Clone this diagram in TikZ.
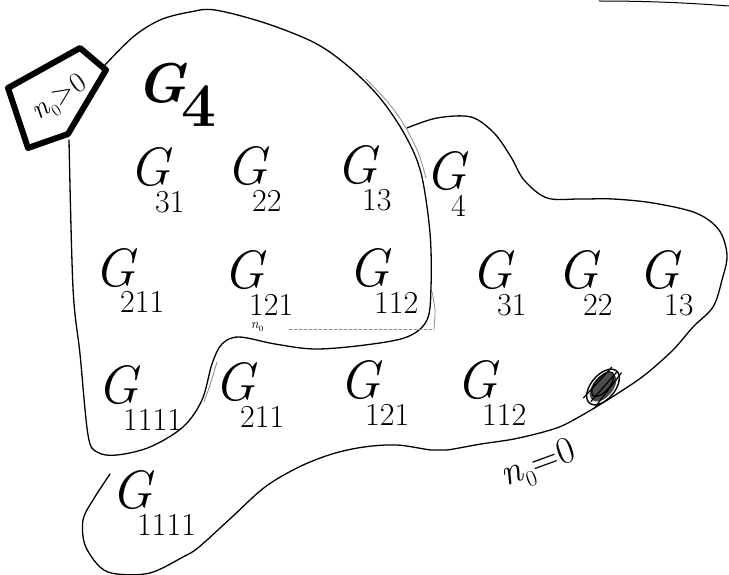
\documentclass[tikz,border=0pt]{standalone}
\usepackage{fontspec}
\begin{document}
\newcommand\Gsub[1]{\textit{G}\kern-17pt\raisebox{-27pt}{\fontsize{32}{32}\selectfont\upshape #1}}
\newcommand\nsub{\textit{n}\raisebox{-0.25em}{\fontsize{0.6em}{0.6em}\selectfont 0}}
\begin{tikzpicture}[x=1pt,y=-1pt,
  glabel/.style={anchor=base west, inner sep=0pt, font=\fontsize{54}{54}\selectfont},
  outline/.style={line width=1.3pt, line join=round, line cap=round},
  faint/.style={line width=0.8pt, black!45, line cap=round},
  tag/.style={line width=6pt, line join=round}]
\useasboundingbox[fill=white] (0,0) rectangle (729,575);

% stray stroke at top right
\draw[outline, line width=1pt] (599,1) .. controls (650,1) and (690,3) .. (729,6);

% region n0>0
\draw[outline] plot[smooth, tension=0.55] coordinates {
 (104,66) (133,37) (160,20) (190,12) (215,10) (265,23) (315,43) (349,67)
 (380,98) (405,135) (421,173) (430,233) (431,287) (427,320) (407,337)
 (365,345) (315,349) (275,344) (239,337) (222,344) (212,364) (202,400)
 (183,427) (150,447) (117,455) (97,452) (88,435) (80,354) (73,288) (69,140)};

% region n0=0
\draw[outline] plot[smooth, tension=0.55] coordinates {
 (407,128) (437,118) (471,117) (494,133) (511,157) (524,180) (547,198)
 (580,199) (613,199) (653,203) (696,213) (719,230) (727,255) (722,280)
 (713,307) (693,327) (673,350) (646,374) (623,390) (596,407) (566,424)
 (547,431) (514,439) (481,444) (447,450) (431,450) (397,445) (364,447)
 (332,454) (299,467) (265,487) (232,517) (199,547) (183,557) (150,573)
 (117,574) (100,567) (85,545) (83,520) (93,500) (110,474)};

% faint double strokes
\draw[faint] plot[smooth] coordinates {(366,79) (386,100) (403,123) (418,152) (426,178)};
\draw[faint] plot[smooth] coordinates {(432,292) (435,310) (434,329)};
\draw[faint, dash pattern=on 3pt off 2pt] (289,329) -- (434,329);
\draw[faint] plot[smooth] coordinates {(217,362) (210,385) (204,402)};

% scribbled blot
\begin{scope}[rotate around={50:(603,387)}]
  \fill[black!70] (603,387) ellipse (17 and 10);
  \draw[line width=1.4pt] (603,387) ellipse (21 and 12);
  \draw[line width=1.2pt] (605,385) ellipse (15 and 7);
  \draw[line width=1.2pt] (582,379) -- (624,381) (580,394) -- (626,392) (584,387) -- (623,388);
\end{scope}

% tag n0>0
\draw[tag] (8,88) -- (80,48) -- (106,70) -- (68,134) -- (28,148) -- cycle;
\node[rotate=34, inner sep=0pt, font=\fontsize{29}{29}\selectfont] (tagpos) at (60,99) {\nsub{}>0};

% labels
\node[glabel, font=\fontsize{56}{56}\selectfont\bfseries] (g4a) at (136,103)
  {\textit{G}\kern-6pt\raisebox{-24pt}{\fontsize{62}{62}\selectfont 4}};
\node[glabel] (g31a)  at (129,186) {\Gsub{31}};
\node[glabel] (g22a)  at (226,185) {\Gsub{22}};
\node[glabel] (g13a)  at (336,184) {\Gsub{13}};
\node[glabel] (g4b)   at (425,190) {\Gsub{4}};

\node[glabel] (g211a) at (94,286) {\Gsub{211}};
\node[glabel] (g121a) at (223,288) {\Gsub{121}};
\node[glabel] (g112a) at (348,287) {\Gsub{112}};
\node[glabel] (g31b)  at (471,288) {\Gsub{31}};
\node[glabel] (g22b)  at (557,288) {\Gsub{22}};
\node[glabel] (g13b)  at (638,288) {\Gsub{13}};

\node[glabel] (g1111a) at (97,403) {\Gsub{1111}};
\node[glabel] (g211b)  at (214,400) {\Gsub{211}};
\node[glabel] (g121b)  at (339,398) {\Gsub{121}};
\node[glabel] (g112b)  at (456,398) {\Gsub{112}};

\node[glabel] (g1111b) at (111,508) {\Gsub{1111}};

% small n0 and n0=0
\node[inner sep=0pt, font=\fontsize{14}{14}\selectfont] (nsmall) at (257,327) {\nsub};
\node[rotate=20, inner sep=0pt, font=\fontsize{38}{38}\selectfont] (nzero) at (539,466) {\nsub{}=0};
\end{tikzpicture}
\end{document}
